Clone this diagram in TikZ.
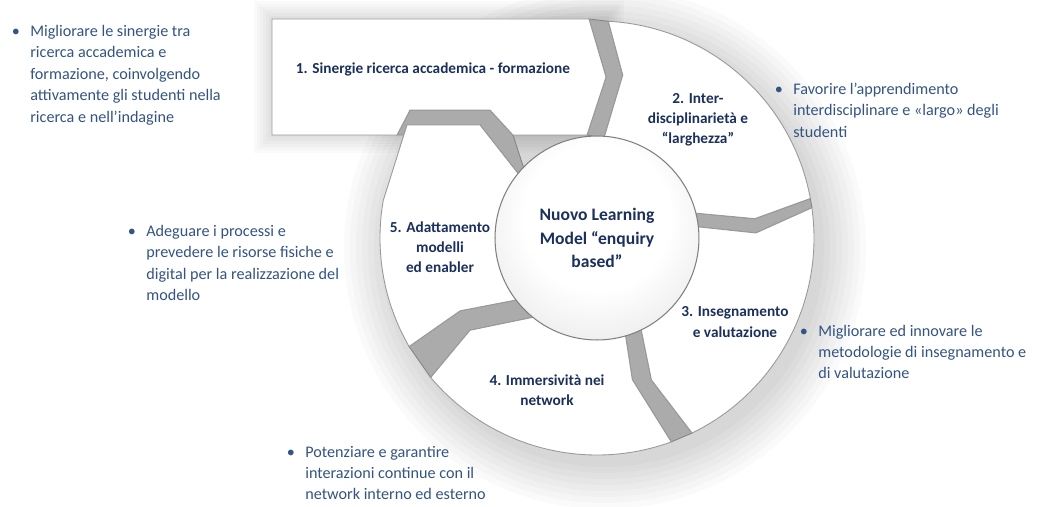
\documentclass[tikz,border=0pt]{standalone}
\usepackage{fontspec}
\setmainfont{Carlito}
\usepackage{xcolor}
\usepackage{tikz}
\definecolor{txtblue}{RGB}{52,84,130}
\definecolor{navy}{RGB}{28,48,92}
\pgfdeclareradialshading{ballshade}{\pgfpoint{0bp}{8bp}}{color(0bp)=(white); color(18bp)=(white); color(40bp)=(black!13); color(50bp)=(black!30)}

\begin{document}
\begin{tikzpicture}[x=0.02cm, y=0.02cm,
    band/.style={fill=black!33, draw=black!48, line width=0.5pt},
    seg/.style={fill=white, draw=black!40, line width=0.5pt},
    lbl/.style={text=navy, font=\fontsize{8.7}{11.5}\selectfont\bfseries, align=center, inner sep=0pt},
    bul/.style={text=txtblue, font=\fontsize{9.2}{12.2}\selectfont, align=left, anchor=west, inner sep=0pt}]
    \useasboundingbox (-597,-269) rectangle (445,238);
    \fill[white] (-597,-269) rectangle (445,238);

    \foreach \r in {219,225,...,261}
      \fill[black, opacity=0.02] (8,-10) circle (\r);
    \foreach \s in {3,6,...,18}
      \fill[black, opacity=0.02] (-325-\s,103-\s) rectangle (9+\s,219+\s);

    \draw[band] (-8,219) -- (9,161) -- (-10,103) -- (86:100) -- (81:165) -- (87:217) -- cycle;
    \draw[band] (10.5:217) -- (7:159) -- (14.5:100) -- (6.5:100) -- (1.8:159) -- (8:217) -- cycle;
    \draw[band] (-64:217) -- (-69:152) -- (-64:100) -- (-73.6:100) -- (-76:146) -- (-70:217) -- cycle;
    \draw[band] (220:217) -- (216:157) -- (232:100) -- (218:100) -- (208:155) -- (210:217) -- cycle;
    \draw[band] (-200,103) -- (-187,128) -- (-107,128) -- (-84,103) -- (-72,66) -- (141:100)
                -- (-117,113) -- (-190,113) -- (-193,103) -- cycle;

    \draw[seg] (-325,219) -- (-8,219) -- (9,161) -- (-10,103) -- (-84,103) -- (-107,128)
               -- (-187,128) -- (-200,103) -- (-325,103) -- cycle;
    \draw[seg] (87:217) arc[start angle=87, end angle=10.5, radius=217] -- (7:159)
               -- (14.5:100) arc[start angle=14.5, end angle=86, radius=100] -- (81:165) -- cycle;
    \draw[seg] (8:217) arc[start angle=8, end angle=-64, radius=217] -- (-69:152)
               -- (-64:100) arc[start angle=-64, end angle=6.5, radius=100] -- (1.8:159) -- cycle;
    \draw[seg] (-70:217) arc[start angle=-70, end angle=-140, radius=217] -- (-144:157)
               -- (-128:100) arc[start angle=-128, end angle=-73.6, radius=100] -- (-76:146) -- cycle;
    \draw[seg] (210:217) arc[start angle=210, end angle=170, radius=217] -- (-190,113) -- (-117,113)
               -- (141:100) arc[start angle=141, end angle=218, radius=100] -- (208:155) -- cycle;

    \node[circle, minimum size=4.08cm, inner sep=0pt, shade, shading=ballshade, draw=black!50, line width=0.6pt,
          text=navy, font=\fontsize{10}{13.6}\selectfont\bfseries, align=center](core) at (0,0)
          {Nuovo Learning\\Model “enquiry\\based”};

    \node[lbl](l1) at (-164,169) {1. Sinergie ricerca accademica - formazione};
    \node[lbl](l2) at (101,118) {2. Inter-\\disciplinarietà e\\“larghezza”};
    \node[lbl](l3) at (138,-84) {3. Insegnamento\\e valutazione};
    \node[lbl](l4) at (-50,-152) {4. Immersività nei\\network};
    \node[lbl](l5) at (-157,-9) {5. Adattamento\\modelli\\ed enabler};

    \node[bul](b1) at (-567,163) {\llap{•\hspace{6pt}}Migliorare le sinergie tra\\ricerca accademica e\\formazione, coinvolgendo\\attivamente gli studenti nella\\ricerca e nell’indagine};
    \node[bul](b2) at (196,128) {\llap{•\hspace{6pt}}Favorire l’apprendimento\\interdisciplinare e «largo» degli\\studenti};
    \node[bul](b3) at (221,-114) {\llap{•\hspace{6pt}}Migliorare ed innovare le\\metodologie di insegnamento e\\di valutazione};
    \node[bul](b4) at (-292,-235) {\llap{•\hspace{6pt}}Potenziare e garantire\\interazioni continue con il\\network interno ed esterno};
    \node[bul](b5) at (-451,-25) {\llap{•\hspace{6pt}}Adeguare i processi e\\prevedere le risorse fisiche e\\digital per la realizzazione del\\modello};
\end{tikzpicture}
\end{document}
